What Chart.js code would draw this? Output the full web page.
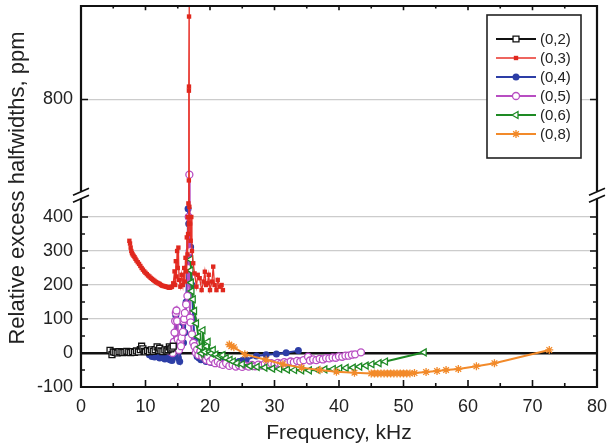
<!DOCTYPE html>
<html><head><meta charset="utf-8">
<script src="https://cdn.jsdelivr.net/npm/chart.js@4/dist/chart.umd.min.js"></script>
<style>html,body{margin:0;padding:0;background:#fff}#wrap{width:608px;height:447px}</style>
</head><body><div id="wrap"><canvas id="c" width="608" height="447"></canvas></div>
<script>
// ---------- data ----------
const freq02 = [4.5,4.8,5.0,5.3,5.6,5.9,6.2,6.5,6.8,7.1,7.4,7.7,8.0,8.3,8.6,8.9,9.2,9.4,9.6,9.8,10.0,10.3,10.6,10.9,11.2,11.5,11.8,12.0,12.2,12.4,12.7,13.0,13.3,13.5,13.7,13.9,14.1,14.3];
const ppm02  = [8,-5,3,2,0,4,3,1,2,5,3,1,4,2,6,3,10,20,12,5,3,7,4,9,5,10,18,8,14,6,4,9,6,10,18,12,15,20];

const freq03 = [7.5,7.6,7.7,7.8,7.9,8.0,8.15,8.3,8.45,8.6,8.8,9.0,9.2,9.4,9.6,9.8,10.0,10.2,10.4,10.6,10.8,11.0,11.2,11.4,11.6,11.8,12.0,12.2,12.4,12.6,12.8,13.0,13.2,13.4,13.6,13.8,14.0,14.1,
  14.3,14.5,14.6,14.7,14.8,14.9,15.0,15.1,15.2,15.4,15.6,15.8,16.0,16.1,16.2,16.3,16.4,16.5,16.55,16.6,16.65,16.7,
  16.72,16.73,16.74,16.75,16.76,16.8,16.9,17.0,17.1,17.2,17.4,17.6,17.9,18.1,18.4,18.7,19.0,19.2,19.4,19.6,19.8,20.0,20.3,20.5,20.7,21.0,21.2,21.5,21.8,22.0];
const ppm03  = [330,322,310,300,294,290,286,282,277,272,267,262,256,250,245,240,236,232,228,225,221,218,215,212,209,207,205,203,200,198,197,196,195,194,192,192,194,195,
  205,240,200,270,225,300,250,310,215,195,230,200,250,210,280,240,340,290,400,350,440,380,
  562,826,838,1044,1150,430,380,330,400,300,264,234,195,230,220,185,210,239,200,205,230,185,210,254,200,185,215,195,200,185];

const freq04 = [10.6,11.0,11.4,11.8,12.2,12.6,13.0,13.4,13.8,14.1,14.3,14.5,14.7,14.9,15.1,15.3,15.5,15.7,15.9,16.1,16.3,16.5,16.6,16.7,16.8,17.0,17.2,17.4,17.6,17.8,18.0,18.3,18.6,19.0,19.4,19.8,20.2,20.6,21.0,21.5,22.0,22.5,23.0,23.5,24.0,24.5,25.0,25.6,27.2,28.7,30.3,31.8,33.7];
const ppm04  = [-5,-10,-12,-8,-15,-12,-18,-15,-20,-22,-10,60,110,40,-15,-25,20,90,30,60,150,250,424,380,300,312,200,100,40,0,-10,-15,-20,-18,-25,-22,-28,-25,-30,-25,-22,-25,-28,-30,-28,-25,-22,-20,-9,-5,-3,1,7];

const freq05 = [13.8,14.0,14.2,14.4,14.5,14.6,14.7,14.8,14.9,15.0,15.2,15.4,15.5,15.6,15.8,15.9,16.0,16.1,16.3,16.5,16.6,16.7,16.8,16.85,16.9,17.0,17.2,17.4,17.6,17.8,18.0,18.2,18.5,18.8,19.1,19.4,19.7,20.0,20.4,20.8,21.2,21.6,22.0,22.5,23.0,23.5,
  24.0,24.5,25.0,25.5,26.0,26.5,27.0,27.5,28.0,28.5,29.0,29.5,30.0,30.5,31.0,31.5,32.0,32.5,33.0,33.5,34.0,34.5,35.2,35.5,36.0,36.5,37.0,37.5,38.0,38.5,39.0,39.5,40.0,40.5,41.0,41.5,42.0,42.5,43.4];
const ppm05  = [5,10,0,33,60,94,118,125,94,40,9,33,20,45,62,94,100,118,143,168,250,400,579,300,104,90,55,30,20,1,10,-6,5,-10,-5,-20,-12,-25,-18,-30,-25,-32,-35,-30,-38,-35,
  -40,-36,-41,-37,-40,-35,-39,-34,-37,-32,-35,-30,-33,-29,-31,-27,-29,-25,-27,-23,-25,-21,-11,-22,-19,-21,-17,-19,-15,-16,-13,-14,-10,-11,-8,-8,-5,-4,2];

const freq06 = [17.0,17.05,17.1,17.2,17.4,17.6,17.9,18.2,18.5,18.7,18.9,19.2,19.5,19.7,20.0,20.2,20.5,20.9,21.3,21.7,22.0,22.5,23.1,23.6,24.2,25.0,26.2,27.3,28.5,29.7,30.8,32.0,33.1,34.2,35.4,36.7,37.8,39.1,40.1,41.1,42.2,43.2,44.2,45.1,46.2,47.2,53.2];
const ppm06  = [275,243,207,182,158,124,87,48,18,-1,67,4,20,33,5,-1,9,-5,-11,-8,-6,-15,-20,-25,-30,-33,-38,-41,-43,-46,-47,-49,-50,-51,-51,-50,-48,-47,-45,-44,-43,-40,-37,-33,-30,-25,2];

const freq08 = [23.0,23.3,23.7,25.4,28.7,31.3,34.2,37.0,39.6,42.4,45.0,45.5,46.0,46.5,47.0,47.5,48.0,48.5,49.0,49.5,50.0,50.5,51.0,51.7,53.5,55.2,56.6,58.5,61.3,64.1,72.6];
const ppm08  = [25,20,17,-4,-20,-33,-43,-50,-55,-58,-60,-60,-60,-60,-60,-60,-60,-60,-60,-60,-60,-60,-60,-59,-56,-53,-50,-47,-39,-30,9];

const seriesLabels = ['(0,2)','(0,3)','(0,4)','(0,5)','(0,6)','(0,8)'];
const xTicks = [0,10,20,30,40,50,60,70,80];
const yTicks = [-100,0,100,200,300,400,800];
const xTitle = 'Frequency, kHz';
const yTitle = 'Relative excess halfwidths, ppm';

// ---------- broken y scale ----------
const LOW_MIN=-100, LOW_MAX=455, UP_MIN=530, UP_MAX=1075, GAP_PX=7;
class BrokenLinearScale extends Chart.LinearScale {
  _seg(){
    const H=this.bottom-this.top, lowSpan=LOW_MAX-LOW_MIN, upSpan=UP_MAX-UP_MIN;
    const k=(H-GAP_PX)/(lowSpan+upSpan);
    const lowTop=this.bottom-lowSpan*k;
    return {k, lowTop, upBot:lowTop-GAP_PX};
  }
  getPixelForValue(v){
    const s=this._seg();
    if (v<=LOW_MAX) return this.bottom-(v-LOW_MIN)*s.k;
    if (v>=UP_MIN) return s.upBot-(v-UP_MIN)*s.k;
    return s.lowTop-(v-LOW_MAX)/(UP_MIN-LOW_MAX)*GAP_PX;
  }
  getValueForPixel(p){
    const s=this._seg();
    if (p>=s.lowTop) return LOW_MIN+(this.bottom-p)/s.k;
    if (p<=s.upBot) return UP_MIN+(s.upBot-p)/s.k;
    return LOW_MAX+(s.lowTop-p)/GAP_PX*(UP_MIN-LOW_MAX);
  }
}
BrokenLinearScale.id='brokenLinear';
BrokenLinearScale.defaults=Chart.LinearScale.defaults;
Chart.register(BrokenLinearScale);

const mk = (xs, ys) => xs.map((x,i)=>({x, y: ys[i]}));

const FONT = "'Liberation Sans', Arial, sans-serif";

const datasets = [
  {label:seriesLabels[0], data:mk(freq02,ppm02), borderColor:'#111', backgroundColor:'#fff', borderWidth:2,
   pointStyle:'rect', pointRadius:4.2, pointBorderWidth:1.3, pointBorderColor:'#111', pointBackgroundColor:'#fff', order:1},
  {label:seriesLabels[1], data:mk(freq03,ppm03), borderColor:'#e8322a', backgroundColor:'#e0281e', borderWidth:1.3,
   pointStyle:'rect', pointRadius:3.1, pointBorderWidth:0, pointBackgroundColor:'#e0281e', order:0},
  {label:seriesLabels[2], data:mk(freq04,ppm04), borderColor:'#2d3ea6', backgroundColor:'#2d3ea6', borderWidth:2,
   pointStyle:'circle', pointRadius:3.5, pointBorderWidth:0, pointBackgroundColor:'#2d3ea6', order:5},
  {label:seriesLabels[3], data:mk(freq05,ppm05), borderColor:'#b84dc2', backgroundColor:'#fff', borderWidth:2,
   pointStyle:'circle', pointRadius:3.5, pointBorderWidth:1.3, pointBorderColor:'#b84dc2', pointBackgroundColor:'#fff', order:4},
  {label:seriesLabels[4], data:mk(freq06,ppm06), borderColor:'#1e8a24', backgroundColor:'#fff', borderWidth:2,
   pointStyle:'triangle', pointRotation:-90, pointRadius:4, pointBorderWidth:1.3, pointBorderColor:'#1e8a24', pointBackgroundColor:'#fff', order:3},
  {label:seriesLabels[5], data:mk(freq08,ppm08), borderColor:'#f28a2a', backgroundColor:'#fff', borderWidth:2,
   pointStyle:'star', pointRadius:4, pointBorderWidth:1.3, pointBorderColor:'#f28a2a', pointBackgroundColor:'#fff', order:2}
];
datasets.forEach(d=>{ d.tension=0; d.fill=false; d.clip=0; });

// ---------- frame, ticks, break marks, legend, y title ----------
const framePlugin = {
  id:'frame',
  afterDraw(chart){
    const ctx=chart.ctx, ca=chart.chartArea, xs=chart.scales.x, ys=chart.scales.y;
    const s=ys._seg();
    ctx.save();
    ctx.strokeStyle='#111'; ctx.lineWidth=2.2; ctx.lineCap='butt';
    const L=ca.left, R=ca.right, T=ca.top, B=ca.bottom;
    ctx.beginPath();
    ctx.moveTo(L,T); ctx.lineTo(R,T);
    ctx.moveTo(L,B); ctx.lineTo(R,B);
    ctx.moveTo(L,B+1); ctx.lineTo(L,s.lowTop);
    ctx.moveTo(L,s.upBot); ctx.lineTo(L,T-1);
    ctx.moveTo(R,B+1); ctx.lineTo(R,s.lowTop);
    ctx.moveTo(R,s.upBot); ctx.lineTo(R,T-1);
    ctx.stroke();
    // ticks
    ctx.lineWidth=1.6;
    ctx.beginPath();
    for (let v=0; v<=80; v+=5){
      const px=xs.getPixelForValue(v), len=(v%10===0)?7:4;
      ctx.moveTo(px,B); ctx.lineTo(px,B-len);
      ctx.moveTo(px,T); ctx.lineTo(px,T+len*0.6);
    }
    for (let v=-100; v<=400; v+=50){
      const py=ys.getPixelForValue(v), len=(v%100===0)?7:4;
      ctx.moveTo(L,py); ctx.lineTo(L+len,py);
      ctx.moveTo(R,py); ctx.lineTo(R-len,py);
    }
    const p800=ys.getPixelForValue(800);
    ctx.moveTo(L,p800); ctx.lineTo(L+7,p800);
    ctx.moveTo(R,p800); ctx.lineTo(R-7,p800);
    ctx.stroke();
    // break marks
    ctx.lineWidth=1.8;
    ctx.beginPath();
    [L,R].forEach(x0=>{
      ctx.moveTo(x0-8,s.upBot+4); ctx.lineTo(x0+8,s.upBot-3);
      ctx.moveTo(x0-8,s.lowTop+4); ctx.lineTo(x0+8,s.lowTop-3);
    });
    ctx.stroke();
    // legend
    const bx=487, by=15, bw=94, bh=143;
    ctx.fillStyle='#fff'; ctx.fillRect(bx,by,bw,bh);
    ctx.lineWidth=1.6; ctx.strokeStyle='#222'; ctx.strokeRect(bx,by,bw,bh);
    ctx.font='15px '+FONT; ctx.textBaseline='middle'; ctx.textAlign='left';
    chart.data.datasets.forEach((d,i)=>{
      const y=39+i*19;
      ctx.strokeStyle=d.borderColor; ctx.lineWidth=i===1?1.3:2;
      ctx.beginPath(); ctx.moveTo(496,y); ctx.lineTo(536,y); ctx.stroke();
      ctx.fillStyle=d.pointBackgroundColor; ctx.strokeStyle=d.pointBorderColor||d.borderColor;
      ctx.lineWidth=d.pointBorderWidth||0;
      Chart.helpers.drawPoint(ctx,{pointStyle:d.pointStyle, radius:d.pointRadius, rotation:d.pointRotation||0, borderWidth:d.pointBorderWidth||0},516,y);
      ctx.fillStyle='#222';
      ctx.fillText(d.label,540,y+1);
    });
    // y axis title
    ctx.translate(18,188); ctx.rotate(-Math.PI/2);
    ctx.font='22px '+FONT; ctx.fillStyle='#222'; ctx.textAlign='center'; ctx.textBaseline='middle';
    ctx.fillText(yTitle,0,0);
    ctx.restore();
  }
};

new Chart(document.getElementById('c'), {
  type:'line',
  data:{datasets},
  options:{
    responsive:false, animation:false, devicePixelRatio:1,
    layout:{padding:{top:6,right:11,left:0,bottom:0}},
    plugins:{legend:{display:false}, tooltip:{enabled:false}},
    scales:{
      x:{type:'linear', min:0, max:80,
        afterBuildTicks:sc=>{ sc.ticks=xTicks.map(v=>({value:v})); },
        afterFit:sc=>{ sc.height=60; sc.paddingLeft=0; sc.paddingRight=0; },
        grid:{display:false, drawTicks:false}, border:{display:false},
        ticks:{font:{family:FONT,size:18}, color:'#222', padding:9, maxRotation:0},
        title:{display:true, text:xTitle, font:{family:FONT,size:21}, color:'#222', padding:{top:0,bottom:1}}
      },
      y:{type:'brokenLinear', min:-100, max:UP_MAX,
        afterBuildTicks:sc=>{ sc.ticks=yTicks.map(v=>({value:v})); },
        afterFit:sc=>{ sc.width=81; sc.paddingTop=0; sc.paddingBottom=0; },
        grid:{drawTicks:false,
          color:c=>c.tick.value===0?'#111':(c.tick.value===-100?'rgba(0,0,0,0)':'#cccccc'),
          lineWidth:c=>c.tick.value===0?2.6:1.2},
        border:{display:false},
        ticks:{font:{family:FONT,size:18}, color:'#222', padding:8},
        title:{display:false}
      }
    }
  },
  plugins:[framePlugin]
});
</script></body></html>
